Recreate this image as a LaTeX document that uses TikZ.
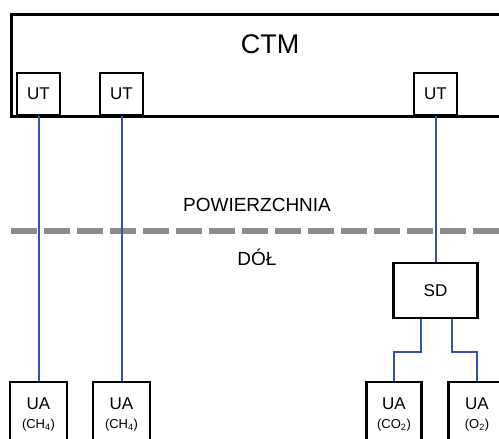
\documentclass[tikz,border=0pt]{standalone}
\usepackage{fontspec}
\setmainfont{Liberation Sans}
\usepackage{tikz}
\usetikzlibrary{positioning}

\definecolor{wire}{RGB}{52,84,170}
\definecolor{ground}{RGB}{140,140,140}

\begin{document}
\begin{tikzpicture}[
  x=1pt,y=1pt,
  unit/.style={draw,line width=2.6pt,inner sep=0pt,minimum width=43pt,
               minimum height=42pt,font=\fontsize{17}{20}\selectfont},
  sensor/.style={draw,line width=2.6pt,inner sep=0pt,minimum width=57pt,
                 minimum height=62pt,align=center,text depth=-16pt,
                 font=\fontsize{17}{20}\selectfont},
  lbl/.style={font=\fontsize{19}{22}\selectfont},
  link/.style={wire,line width=2pt}
]
\useasboundingbox (0,0) rectangle (499,439);
\clip (0,0) rectangle (499,439);
% surface station
\node[draw,line width=2.6pt,minimum width=510pt,minimum height=102pt,
      anchor=north west,inner sep=0pt] (ctm) at (10,426) {};
\node[font=\fontsize{27}{30}\selectfont] (ctmtxt) at (270,395) {CTM};
\node[unit] (ut1) at (38.5,345) {UT};
\node[unit] (ut2) at (121.5,345) {UT};
\node[unit] (ut3) at (435.5,345) {UT};
% surface / underground border
\draw[ground,line width=5.5pt,dash pattern=on 26pt off 7pt] (11,208) -- (499,208);
\node[lbl] (surf) at (257,234) {POWIERZCHNIA};
\node[lbl] (down) at (257,182) {DÓŁ};
% underground units
\node[unit,minimum width=84pt,minimum height=55pt] (sd) at (435.5,148.5) {SD};
\node[sensor] (ua1) at (38.5,26) {UA\\[-1pt]{\fontsize{13}{15}\selectfont(CH\textsubscript{4})}};
\node[sensor] (ua2) at (121.5,26) {UA\\[-1pt]{\fontsize{13}{15}\selectfont(CH\textsubscript{4})}};
\node[sensor,minimum width=55pt] (ua3) at (394,26) {UA\\[-1pt]{\fontsize{13}{15}\selectfont(CO\textsubscript{2})}};
\node[sensor] (ua4) at (477,26) {UA\\[-1pt]{\fontsize{13}{15}\selectfont(O\textsubscript{2})}};
% cables
\draw[link] (ut1.south) -- (ua1.north);
\draw[link] (ut2.south) -- (ua2.north);
\draw[link] (ut3.south) -- (sd.north);
\draw[link] ([xshift=-15pt]sd.south) -- ++(0,-33) -| (ua3.north);
\draw[link] ([xshift=16pt]sd.south) -- ++(0,-33) -| (ua4.north);
\end{tikzpicture}
\end{document}
